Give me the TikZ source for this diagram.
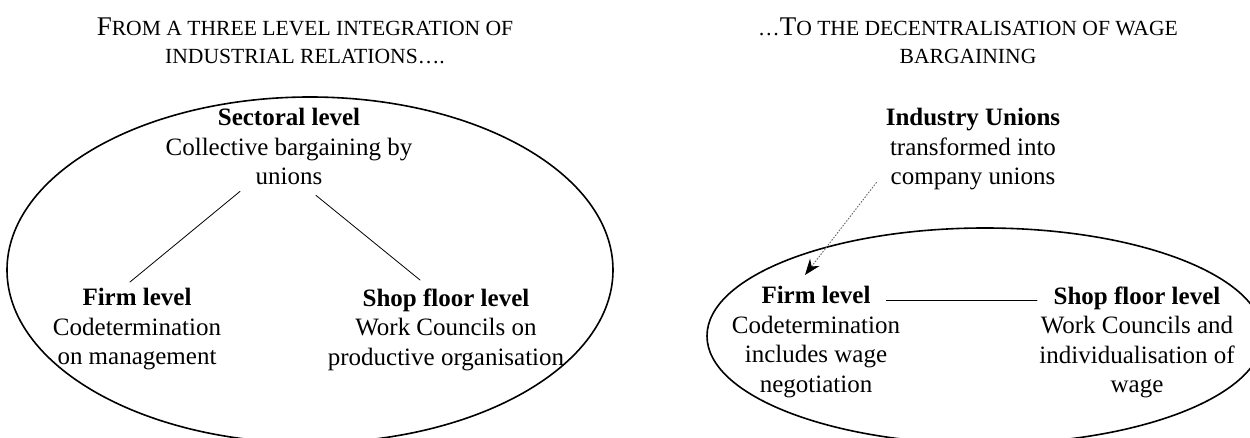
\documentclass[tikz,border=0pt]{standalone}
\usepackage{fontspec}
\setmainfont{Liberation Serif}
\usetikzlibrary{arrows.meta}
\newcommand\bigletter[1]{{\fontsize{13.5}{14}\selectfont #1}}

\begin{document}
\begin{tikzpicture}[x=0.5pt,y=-0.5pt,line join=round,line cap=round,>={Stealth[length=8pt,width=6pt,color=black]}]
    \tikzset{heading/.style={font=\fontsize{10.8}{14}\selectfont, align=center, inner sep=0pt, anchor=north},
             tier/.style={font=\fontsize{12.5}{14.75}\selectfont, align=center, inner sep=2pt, anchor=north},
             ring/.style={line width=0.8pt},
             link/.style={line width=0.4pt},
             hint/.style={densely dotted, gray!80!black, line width=0.5pt}}
    \useasboundingbox (0,0) rectangle (1250,438);
    % headings
    \node[heading] (oldTitle) at (305,17) {\bigletter{F}ROM A THREE LEVEL INTEGRATION OF\\INDUSTRIAL RELATIONS\ldots.};
    \node[heading] (newTitle) at (968,17) {\ldots\bigletter{T}O THE DECENTRALISATION OF WAGE\\BARGAINING};
    % three level integration
    \draw[ring] (310,270) ellipse [x radius=303, y radius=173];
    \node[tier] (sect) at (289,104) {\textbf{Sectoral level}\\Collective bargaining by\\unions};
    \node[tier] (firmL) at (137,284) {\textbf{Firm level}\\Codetermination\\on management};
    \node[tier] (shopL) at (446,284) {\textbf{Shop floor level}\\Work Councils on\\productive organisation};
    \draw[link] ([shift={(-49,2)}]sect.south) -- ([shift={(-7,-2)}]firmL.north);
    \draw[link] ([shift={(27,6)}]sect.south) -- ([shift={(-26,-4)}]shopL.north);
    % decentralised bargaining
    \draw[ring] (985,336) ellipse [x radius=278, y radius=108];
    \node[tier] (unionsR) at (973,104) {\textbf{Industry Unions}\\transformed into\\company unions};
    \node[tier] (firmR) at (816,282) {\textbf{Firm level}\\Codetermination\\includes wage\\negotiation};
    \node[tier] (shopR) at (1137,282) {\textbf{Shop floor level}\\Work Councils and\\individualisation of\\wage};
    \draw[link] ([shift={(-18,18)}]firmR.north east) -- ([shift={(2,18)}]shopR.north west);
    \draw[hint,->] ([shift={(-5,-12)}]unionsR.south west) -- ([shift={(-11,-7)}]firmR.north);
\end{tikzpicture}
\end{document}
